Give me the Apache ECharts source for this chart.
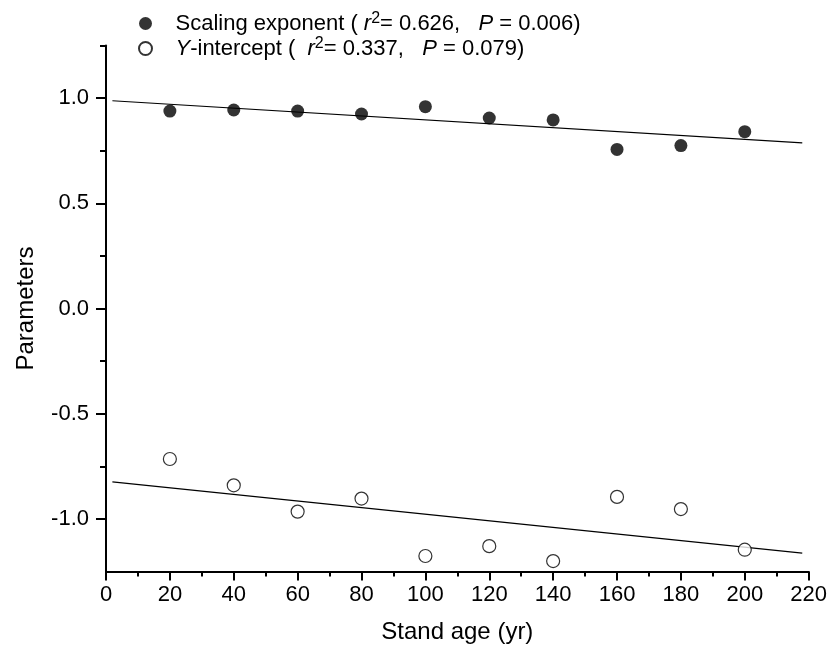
<!DOCTYPE html>
<html>
<head>
<meta charset="utf-8">
<script src="https://cdn.jsdelivr.net/npm/echarts@6/dist/echarts.min.js"></script>
<style>html,body{margin:0;padding:0;background:#fff}#chart{width:830px;height:652px}</style>
</head>
<body>
<div id="chart"></div>
<script>
const ages = [20, 40, 60, 80, 100, 120, 140, 160, 180, 200];
const scalingExponent = [0.938, 0.943, 0.938, 0.924, 0.959, 0.905, 0.896, 0.756, 0.774, 0.840];
const yIntercept = [-0.715, -0.840, -0.965, -0.903, -1.176, -1.129, -1.200, -0.895, -0.953, -1.146];
const fitAges = [2, 218];
const fitScaling = [0.987, 0.787];
const fitIntercept = [-0.824, -1.162];
const yMajorTicks = [-1.0, -0.5, 0.0, 0.5, 1.0];
const yMinorTicks = [-0.75, -0.25, 0.25, 0.75, 1.25];
const seriesNames = ['Scaling exponent', 'Y-intercept'];
const legendTexts = {
  'Scaling exponent': 'Scaling exponent ( {i|r}{s|2}= 0.626,   {i|P} = 0.006)',
  'Y-intercept': '{i|Y}-intercept (  {i|r}{s|2}= 0.337,   {i|P} = 0.079)'
};

const ink = '#000';
const font = '"Liberation Sans", Arial, sans-serif';
const chart = echarts.init(document.getElementById('chart'), null, {renderer: 'canvas'});

const pairs = (xs, ys) => xs.map((x, i) => [x, ys[i]]);

chart.setOption({
  animation: false,
  backgroundColor: '#fff',
  textStyle: {fontFamily: font, color: ink},
  grid: {left: 106, right: 20, top: 45.4, bottom: 80.4},
  legend: {
    orient: 'vertical',
    left: 133,
    top: 6,
    itemWidth: 50,
    itemHeight: 13,
    itemGap: 0,
    data: seriesNames,
    formatter: name => legendTexts[name],
    textStyle: {
      fontSize: 22, color: ink, fontFamily: font, lineHeight: 25,
      rich: {
        i: {fontStyle: 'italic', fontSize: 22, fontFamily: font, color: ink, lineHeight: 25},
        s: {fontSize: 16, fontFamily: font, color: ink, verticalAlign: 'top', lineHeight: 25}
      }
    }
  },
  xAxis: {
    type: 'value', min: 0, max: 220, interval: 20,
    axisLine: {onZero: false, lineStyle: {color: ink, width: 2}},
    axisTick: {length: 9, lineStyle: {color: ink, width: 2}},
    minorTick: {show: true, splitNumber: 2, length: 5, lineStyle: {color: ink, width: 2}},
    splitLine: {show: false},
    axisLabel: {fontSize: 22, color: ink, fontFamily: font, margin: 12},
    name: 'Stand age (yr)', nameLocation: 'middle', nameGap: 49,
    nameTextStyle: {fontSize: 24, color: ink, fontFamily: font}
  },
  yAxis: [{
    type: 'value', min: -1.25, max: 1.25, position: 'left',
    axisLine: {show: true, onZero: false, lineStyle: {color: ink, width: 2}},
    axisTick: {show: true, customValues: yMajorTicks, length: 10, lineStyle: {color: ink, width: 2}},
    splitLine: {show: false},
    axisLabel: {customValues: yMajorTicks, formatter: v => Number(v).toFixed(1), fontSize: 22, color: ink, fontFamily: font, margin: 17},
    name: 'Parameters', nameLocation: 'middle', nameGap: 68,
    nameTextStyle: {fontSize: 24, color: ink, fontFamily: font}
  }, {
    type: 'value', min: -1.25, max: 1.25, position: 'left', offset: 0,
    axisLine: {show: false, onZero: false},
    axisTick: {show: true, customValues: yMinorTicks, length: 6, lineStyle: {color: ink, width: 2}},
    axisLabel: {show: false},
    splitLine: {show: false}
  }],
  series: [
    {
      name: seriesNames[0], type: 'scatter', yAxisIndex: 0,
      symbol: 'circle', symbolSize: 13,
      itemStyle: {color: ink},
      data: pairs(ages, scalingExponent), z: 3
    },
    {
      name: seriesNames[1], type: 'scatter', yAxisIndex: 0,
      symbol: 'circle', symbolSize: 13,
      itemStyle: {color: '#fff', borderColor: ink, borderWidth: 1.2},
      data: pairs(ages, yIntercept), z: 3
    },
    {
      name: 'fit1', type: 'line', yAxisIndex: 0, showSymbol: false, silent: true,
      lineStyle: {color: ink, width: 1.2},
      data: pairs(fitAges, fitScaling), z: 2
    },
    {
      name: 'fit2', type: 'line', yAxisIndex: 0, showSymbol: false, silent: true,
      lineStyle: {color: ink, width: 1.2},
      data: pairs(fitAges, fitIntercept), z: 2
    }
  ]
});
</script>
</body>
</html>
